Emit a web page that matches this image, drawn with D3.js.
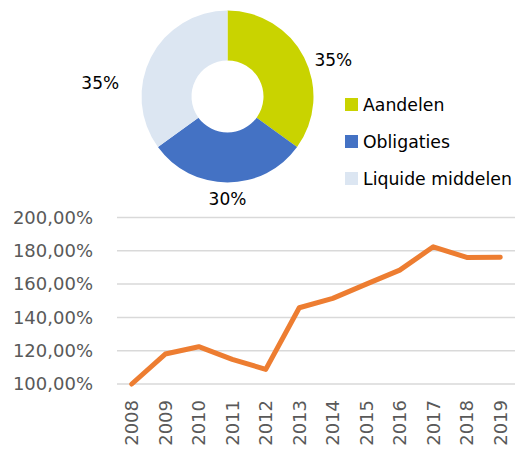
<!DOCTYPE html>
<html lang="nl">
<head>
<meta charset="UTF-8">
<title>Verdeling en rendement</title>
<script src="https://d3js.org/d3.v7.min.js"></script>
<style>
  body { margin: 0; background: #fff; }
  text { font-family: "DejaVu Sans", "Open Sans", sans-serif; }
</style>
</head>
<body>
<div id="chart"></div>
<script>
// --- data ---
var categories = ["Aandelen", "Obligaties", "Liquide middelen"];
var shares = [35, 30, 35];
var years = ["2008", "2009", "2010", "2011", "2012", "2013", "2014", "2015", "2016", "2017", "2018", "2019"];
var growth = [100, 118, 122.4, 114.8, 108.8, 145.8, 151.4, 160, 168.4, 182.4, 176, 176.2];
var yTicks = [100, 120, 140, 160, 180, 200];

var W = 515, H = 449;
var colors = ["#c9d300", "#4472c4", "#dce6f2"];
var font = '"DejaVu Sans", sans-serif';

const svg = d3.select("#chart").append("svg")
    .attr("width", W).attr("height", H);

// --- donut ---
var cx = 227.5, cy = 96.5;
var pie = d3.pie().sort(null).value(function(d) { return d; });
var arc = d3.arc().innerRadius(36).outerRadius(86);
var arcs = pie(shares);

var g = svg.append("g").attr("transform", `translate(${cx},${cy})`);
g.selectAll("path").data(arcs).enter().append("path")
    .attr("d", arc)
    .attr("fill", function(d, i) { return colors[i]; });

// label placement (angle in degrees from top, radius)
var labelPlace = [{a: 71, r: 112}, {a: 180, r: 103}, {a: 276, r: 128}];
g.selectAll("text.pct").data(arcs).enter().append("text")
    .attr("class", "pct")
    .attr("x", function(d, i) { return Math.sin(labelPlace[i].a * Math.PI / 180) * labelPlace[i].r; })
    .attr("y", function(d, i) { return -Math.cos(labelPlace[i].a * Math.PI / 180) * labelPlace[i].r; })
    .attr("dy", "0.35em")
    .attr("text-anchor", "middle")
    .attr("font-size", 17)
    .attr("fill", "#000")
    .text(function(d) { return d.data + "%"; });

// legend
var leg = svg.append("g").attr("transform", "translate(345,98)");
var items = leg.selectAll("g").data(categories).enter().append("g")
    .attr("transform", function(d, i) { return `translate(0,${i * 37})`; });
items.append("rect").attr("width", 13).attr("height", 13)
    .attr("fill", function(d, i) { return colors[i]; });
items.append("text").attr("x", 18).attr("y", 6.5).attr("dy", "0.35em")
    .attr("font-size", 17.3).attr("fill", "#000")
    .text(function(d) { return d; });

// --- line chart ---
var x = d3.scaleBand().domain(years).range([115, 517]);
var y = d3.scaleLinear().domain([100, 200]).range([384, 217.5]);

svg.append("g").selectAll("line").data(yTicks).enter().append("line")
    .attr("x1", 117).attr("x2", 515)
    .attr("y1", function(d) { return y(d); })
    .attr("y2", function(d) { return y(d); })
    .attr("stroke", "#d9d9d9").attr("stroke-width", 1.5);

var yAxis = svg.append("g").attr("transform", "translate(93,0)")
    .call(d3.axisLeft(y).tickValues(yTicks).tickSize(0).tickPadding(0)
        .tickFormat(function(d) { return d3.format(".2f")(d).replace(".", ",") + "%"; }));
yAxis.select(".domain").remove();
yAxis.selectAll("text").attr("font-size", 18).attr("fill", "#595959")
    .style("font-family", font);

var xAxis = svg.append("g").attr("transform", "translate(0,400)")
    .call(d3.axisBottom(x).tickSize(0).tickPadding(0));
xAxis.select(".domain").remove();
xAxis.selectAll("text")
    .attr("transform", "rotate(-90)")
    .attr("text-anchor", "end")
    .attr("x", 0).attr("y", 0).attr("dy", "0.35em")
    .attr("font-size", 18).attr("fill", "#595959")
    .style("font-family", font);

svg.append("path")
    .datum(growth)
    .attr("fill", "none")
    .attr("stroke", "#ed7d31")
    .attr("stroke-width", 5)
    .attr("stroke-linejoin", "round")
    .attr("stroke-linecap", "round")
    .attr("d", d3.line()
        .x(function(d, i) { return x(years[i]) + x.bandwidth() / 2; })
        .y(function(d) { return y(d); }));
</script>
</body>
</html>
